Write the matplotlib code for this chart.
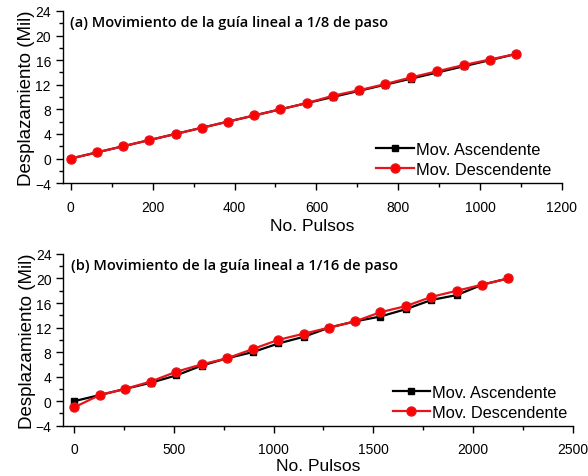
import matplotlib
matplotlib.use("Agg")
import matplotlib.pyplot as plt
from matplotlib.ticker import MultipleLocator

# (a) 1/8 de paso
pulsos_a = [0, 64, 128, 192, 256, 320, 384, 448, 512, 576, 640, 704, 768, 832, 896, 960, 1024, 1088]
asc_a = [0, 1, 2, 3, 4, 5, 6, 7, 8, 9, 10, 11, 12, 13, 14, 15, 16, 17]
desc_a = [0, 1, 2, 3, 4, 5, 6, 7, 8, 9, 10.2, 11.1, 12.1, 13.2, 14.2, 15.2, 16.1, 17]

# (b) 1/16 de paso
pulsos_b = [0, 128, 256, 384, 512, 640, 768, 896, 1024, 1152, 1280, 1408, 1536, 1664, 1792, 1920, 2048, 2176]
asc_b = [0, 1, 2, 3, 4.2, 5.8, 7, 8, 9.4, 10.5, 12, 13, 13.8, 15, 16.5, 17.3, 19, 20]
desc_b = [-1, 1, 2, 3.2, 4.8, 6, 7, 8.5, 10, 11, 12, 13, 14.5, 15.5, 17, 18, 19, 20]

titles = ["(a) Movimiento de la guía lineal a 1/8 de paso",
          "(b) Movimiento de la guía lineal a 1/16 de paso"]

plt.rcParams['font.family'] = ['Liberation Sans', 'DejaVu Sans']

fig = plt.figure(figsize=(5.88, 4.77), dpi=100)
ax1 = fig.add_axes([0.1066, 0.614, 0.849, 0.361])
ax2 = fig.add_axes([0.1077, 0.1055, 0.866, 0.36])

setups = [
    (ax1, pulsos_a, asc_a, desc_a, (-20, 1200), 200, 100, titles[0], (0.979, 0.035), 3),
    (ax2, pulsos_b, asc_b, desc_b, (-55, 2500), 500, 250, titles[1], (0.99, 0.033), 1),
]

for ax, x, ya, yd, xl, maj, mnr, title, anchor, lpad in setups:
    ax.plot(x, ya, '-s', color='black', lw=1.6, ms=5, label='Mov. Ascendente')
    ax.plot(x, yd, '-o', color='#e8141b', mfc='#ff0000', mec='#e8141b', lw=1.6, ms=6.5,
            label='Mov. Descendente')
    ax.set_xlim(*xl)
    ax.set_ylim(-4, 24)
    ax.xaxis.set_major_locator(MultipleLocator(maj))
    ax.xaxis.set_minor_locator(MultipleLocator(mnr))
    ax.yaxis.set_major_locator(MultipleLocator(4))
    ax.yaxis.set_minor_locator(MultipleLocator(2))
    for s in ['top', 'right']:
        ax.spines[s].set_visible(False)
    for s in ['left', 'bottom']:
        ax.spines[s].set_linewidth(1.0)
    ax.tick_params(which='major', direction='out', length=5, width=1, labelsize=10)
    ax.tick_params(axis='x', which='major', pad=7)
    ax.tick_params(which='minor', direction='out', length=3, width=1)
    ax.set_xlabel('No. Pulsos', fontsize=12.5, labelpad=lpad)
    ax.set_ylabel('Desplazamiento (Mil)', fontsize=13.5, labelpad=0)
    ax.text(0.015, 0.975, title, transform=ax.transAxes, ha='left', va='top',
            fontsize=10.5, fontweight='semibold', family=['Open Sans', 'DejaVu Sans'])
    ax.legend(loc='lower right', bbox_to_anchor=anchor, frameon=False, fontsize=11.8,
              handlelength=2.3, handletextpad=0.12, borderaxespad=0, borderpad=0,
              labelspacing=0.3)

fig.savefig('out.png', dpi=100)
